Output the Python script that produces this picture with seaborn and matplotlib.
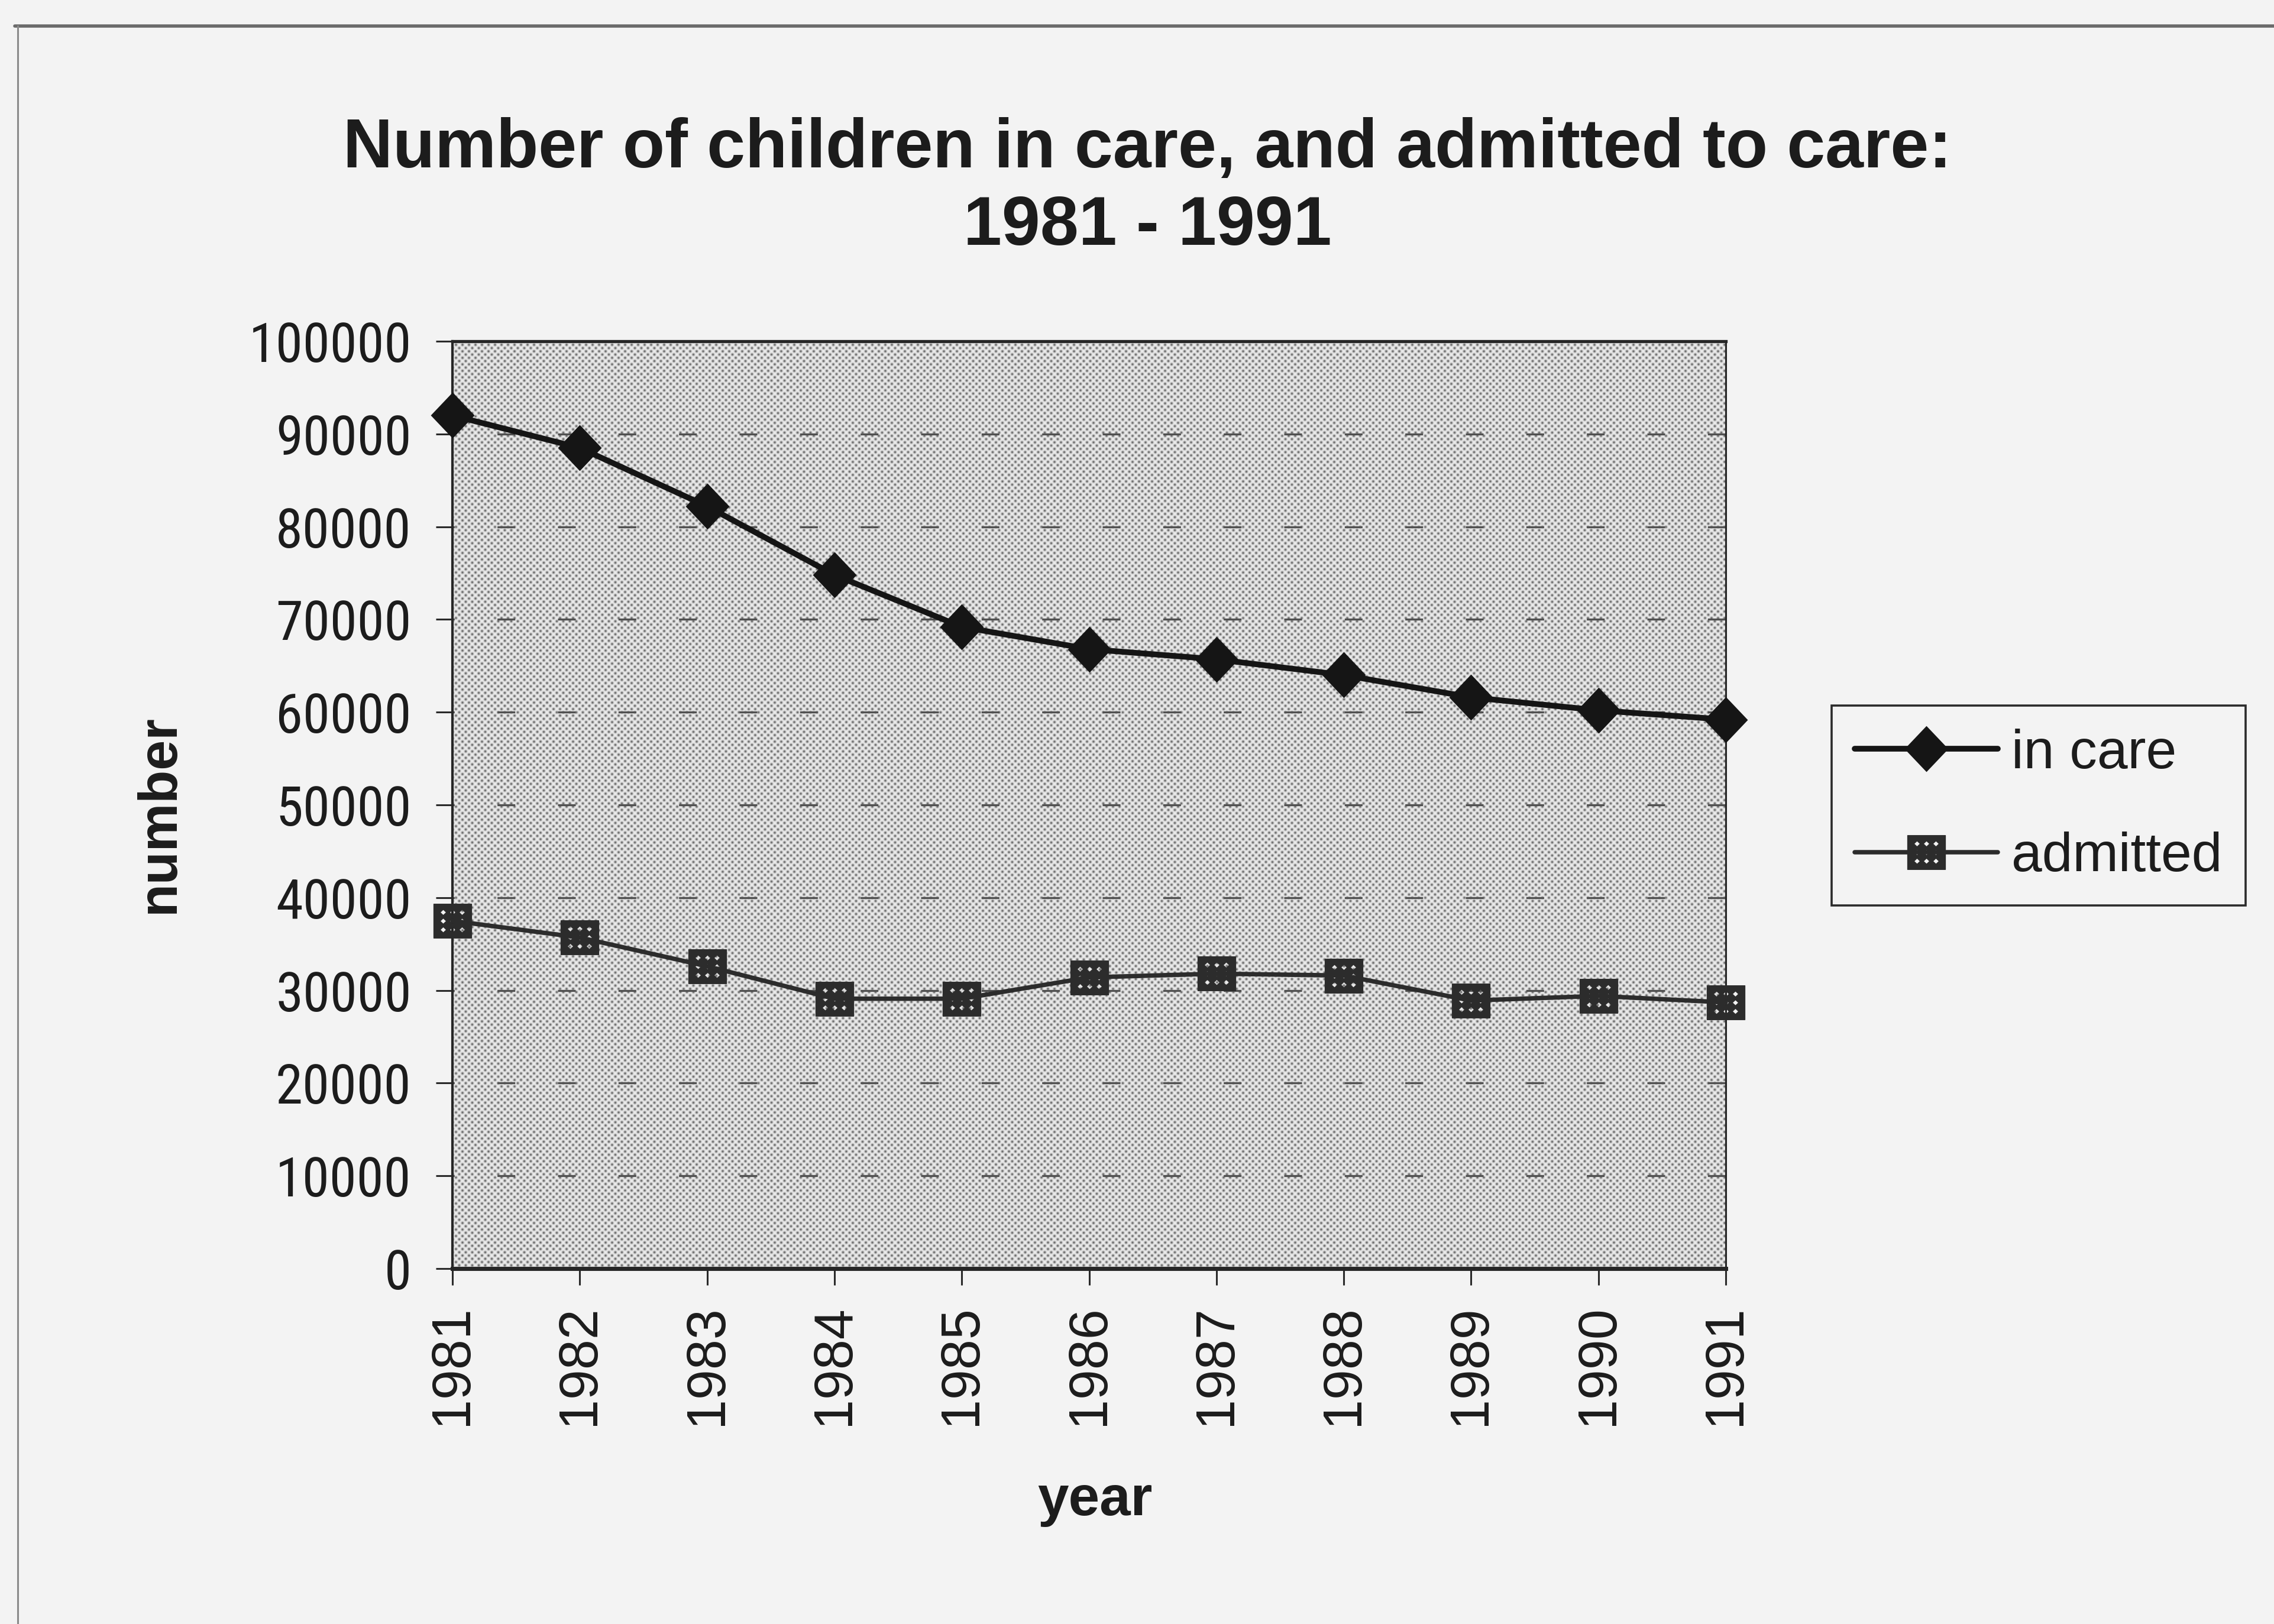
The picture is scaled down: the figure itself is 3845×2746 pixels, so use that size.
import numpy as np
import pandas as pd
import matplotlib
matplotlib.use("Agg")
import matplotlib.pyplot as plt
from matplotlib import font_manager
from matplotlib.font_manager import FontProperties
from matplotlib.path import Path
from matplotlib.lines import Line2D
import seaborn as sns

# ---- data -------------------------------------------------------------
years = [1981, 1982, 1983, 1984, 1985, 1986, 1987, 1988, 1989, 1990, 1991]
in_care = [92000, 88500, 82200, 74800, 69200, 66800, 65700, 64000, 61600, 60200, 59200]
admitted = [37500, 35700, 32600, 29100, 29100, 31400, 31800, 31600, 28900, 29400, 28700]
series_labels = ["in care", "admitted"]
y_ticks = list(range(0, 100001, 10000))
title_text = "Number of children in care, and admitted to care:\n1981 - 1991"
x_label = "year"
y_label = "number"

# ---- style ------------------------------------------------------------
sns.set_theme(style="ticks")
plt.rcParams["font.family"] = ["Liberation Sans", "DejaVu Sans"]


def condensed_font():
    """Pick an installed narrow/condensed regular sans face, if there is one."""
    prefs = ["liberation sans narrow", "arial narrow", "roboto condensed",
             "open sans condensed", "noto sans"]
    found = []
    for f in font_manager.fontManager.ttflist:
        name = f.name.lower()
        narrowish = ("narrow" in name or "condensed" in name
                     or f.stretch in ("condensed", "semi-condensed", 600, 700))
        fname_l = f.fname.lower()
        narrowish = narrowish or "condensed" in fname_l or "narrow" in fname_l
        if not narrowish or f.style != "normal":
            continue
        if f.weight not in (400, "normal", "regular"):
            continue
        if "extracondensed" in fname_l or "extra" in str(f.stretch):
            continue
        rank = next((i for i, p in enumerate(prefs) if p in name), len(prefs))
        semi = 0 if ("semicondensed" in fname_l or "narrow" in fname_l) else 1
        found.append((rank, semi, f.fname))
    if not found:
        return None
    found.sort()
    return found[0][2]


narrow_path = condensed_font()

PAGE = "#f3f3f3"
INK = "#1c1c1c"

W_PX, H_PX, DPI = 3845, 2746, 100
fig = plt.figure(figsize=(W_PX / DPI, H_PX / DPI), dpi=DPI, facecolor=PAGE)

# plot area in pixels
left_px, right_px, top_px, bottom_px = 765, 2918, 577, 2145
ax = fig.add_axes([left_px / W_PX, 1 - bottom_px / H_PX,
                   (right_px - left_px) / W_PX, (bottom_px - top_px) / H_PX])
ax.set_facecolor("none")

# stippled plot-area background (halftone dots)
pw, ph = right_px - left_px, bottom_px - top_px
hh, ww = np.mgrid[0:ph, 0:pw].astype(float)
s = 11.0
u = (ww + hh) / s
v = (ww - hh) / s
du = u - np.round(u)
dv = v - np.round(v)
d2 = (s * s / 2.0) * (du ** 2 + dv ** 2)
g = np.exp(-d2 / (2 * 1.6 ** 2))
val = 0.93 - 0.55 * g
fig.figimage(np.dstack([val, val, val]), xo=left_px, yo=H_PX - bottom_px,
             origin="upper", zorder=-1)


# ---- markers ----------------------------------------------------------
def diamond_marker():
    verts = [(0, 1.0), (0.95, 0), (0, -1.0), (-0.95, 0), (0, 1.0)]
    codes = [Path.MOVETO, Path.LINETO, Path.LINETO, Path.LINETO, Path.CLOSEPOLY]
    return Path(verts, codes)


def lattice_marker():
    verts = [(-1, -0.9), (1, -0.9), (1, 0.9), (-1, 0.9), (-1, -0.9)]
    codes = [Path.MOVETO, Path.LINETO, Path.LINETO, Path.LINETO, Path.CLOSEPOLY]
    hx, hy = 0.17, 0.16
    for cx in (-0.5, 0.0, 0.5):
        for cy in (-0.46, 0.0, 0.46):
            verts += [(cx, cy + hy), (cx + hx, cy), (cx, cy - hy), (cx - hx, cy), (cx, cy + hy)]
            codes += [Path.MOVETO, Path.LINETO, Path.LINETO, Path.LINETO, Path.CLOSEPOLY]
    return Path(verts, codes)


df = pd.DataFrame({"year": years, series_labels[0]: in_care, series_labels[1]: admitted})

sns.lineplot(data=df, x="year", y=series_labels[0], ax=ax, errorbar=None,
             color="#151515", linewidth=7.0, marker=diamond_marker(), markersize=56,
             markeredgewidth=0, markeredgecolor="#151515", markerfacecolor="#151515",
             clip_on=False, zorder=5)
sns.lineplot(data=df, x="year", y=series_labels[1], ax=ax, errorbar=None,
             color="#2c2c2c", linewidth=5.4, marker=lattice_marker(), markersize=46,
             markeredgewidth=1.0, markeredgecolor="#2c2c2c", markerfacecolor="#2c2c2c",
             clip_on=False, zorder=4)

# ---- axes -------------------------------------------------------------
ax.set_xlim(years[0], years[-1])
ax.set_ylim(y_ticks[0], y_ticks[-1])
ax.set_xticks(years)
ax.set_xticklabels([str(y) for y in years], rotation=90, fontsize=66, color=INK)
ax.set_yticks(y_ticks)
if narrow_path:
    ylab_fp = FontProperties(fname=narrow_path, size=67)
else:
    ylab_fp = FontProperties(family="Liberation Sans", size=60)
ax.set_yticklabels([str(t) for t in y_ticks], color=INK, fontproperties=ylab_fp)
ax.tick_params(axis="both", direction="out", length=20, width=2.2, color="#2a2a2a",
               bottom=True, left=True)
ax.tick_params(axis="x", pad=24)
ax.tick_params(axis="y", pad=30)

ax.yaxis.grid(True, color="#505050", linewidth=2.4, linestyle=(8, (9.0, 21.7)))
ax.xaxis.grid(False)

for side, lw in (("left", 3.0), ("top", 3.8), ("bottom", 5.0), ("right", 2.2)):
    ax.spines[side].set_visible(True)
    ax.spines[side].set_color("#262626")
    ax.spines[side].set_linewidth(lw)

ax.set_xlabel(x_label, fontsize=68, fontweight="bold", color=INK)
ax.set_ylabel(y_label, fontsize=66, fontweight="bold", color=INK)
ax.xaxis.label.set_va("center")
ax.yaxis.label.set_va("center")
ax.xaxis.set_label_coords((1851 - left_px) / pw, (bottom_px - 2538) / ph)
ax.yaxis.set_label_coords((270 - left_px) / pw, (bottom_px - 1376) / ph)

fig.text(1940 / W_PX, 1 - 318 / H_PX, title_text, ha="center", va="center",
         multialignment="center", fontsize=84, fontweight="bold", color=INK,
         linespacing=1.26)

# ---- legend -----------------------------------------------------------
handles = ax.get_lines()[:2]
leg = ax.legend(handles, series_labels, loc="center left",
                bbox_to_anchor=(3097 / W_PX, 1 - 1362 / H_PX),
                bbox_transform=fig.transFigure, borderaxespad=0,
                frameon=True, fancybox=False, framealpha=1,
                facecolor=PAGE, edgecolor="#2a2a2a",
                fontsize=67, handlelength=2.6, handletextpad=0.25,
                borderpad=0.42, labelspacing=0.95, numpoints=1)
leg.get_frame().set_linewidth(2.6)
for t in leg.get_texts():
    t.set_color(INK)

# ---- page frame lines -------------------------------------------------
fig.add_artist(Line2D([25 / W_PX, 1.0], [1 - 44 / H_PX] * 2, transform=fig.transFigure,
                      color="#6a6a6a", linewidth=4.0))
fig.add_artist(Line2D([30 / W_PX] * 2, [0.0, 1 - 44 / H_PX], transform=fig.transFigure,
                      color="#8a8a8a", linewidth=2.2))

fig.savefig("out.png", dpi=DPI, facecolor=PAGE)
